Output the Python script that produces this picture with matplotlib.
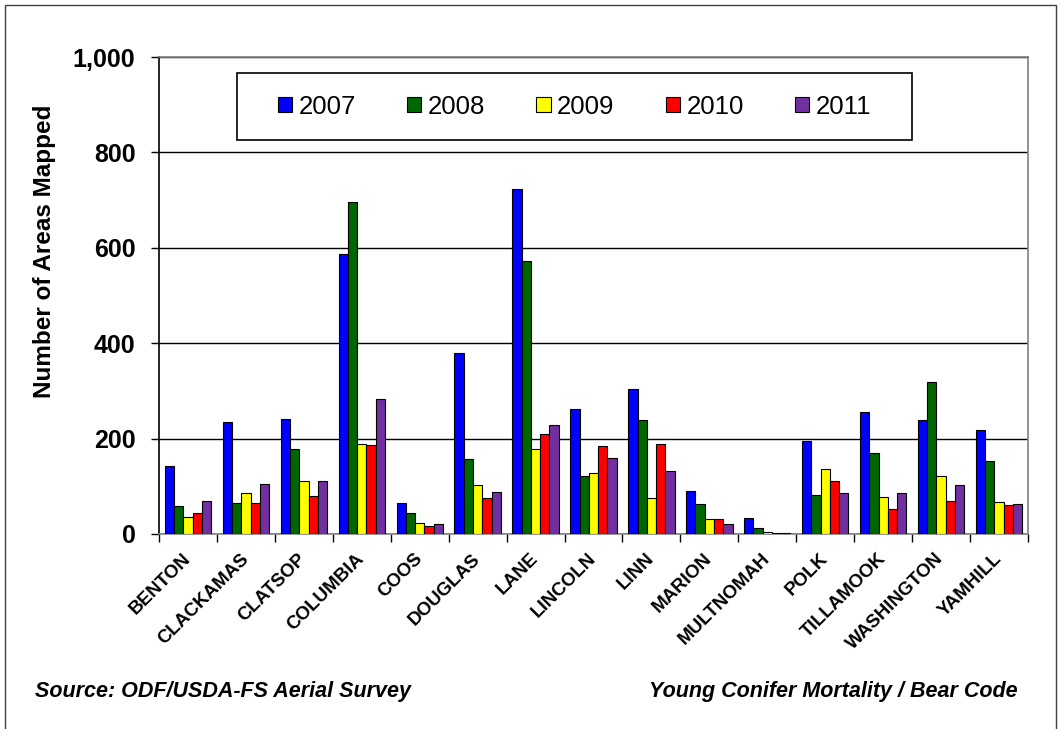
import matplotlib.pyplot as plt
import numpy as np
from matplotlib.patches import Rectangle
from matplotlib.ticker import FuncFormatter

plt.rcParams['font.family'] = ['Liberation Sans', 'DejaVu Sans']

# mapped areas per county and year
counties = ['BENTON', 'CLACKAMAS', 'CLATSOP', 'COLUMBIA', 'COOS', 'DOUGLAS', 'LANE',
            'LINCOLN', 'LINN', 'MARION', 'MULTNOMAH', 'POLK', 'TILLAMOOK',
            'WASHINGTON', 'YAMHILL']
years = ['2007', '2008', '2009', '2010', '2011']
y2007 = [142, 234, 241, 586, 65, 380, 724, 261, 304, 90, 33, 196, 256, 238, 217]
y2008 = [58, 65, 179, 697, 45, 158, 573, 122, 239, 62, 13, 82, 169, 318, 154]
y2009 = [35, 85, 112, 189, 22, 102, 179, 127, 75, 31, 5, 137, 77, 122, 67]
y2010 = [45, 65, 80, 186, 16, 75, 209, 184, 189, 31, 3, 112, 52, 70, 60]
y2011 = [70, 105, 112, 284, 20, 87, 228, 159, 132, 20, 2, 85, 85, 102, 62]
colors = ['#0000FF', '#006600', '#FFFF00', '#FF0000', '#7030A0']

fig = plt.figure(figsize=(10.61, 7.29), dpi=100)
ax = fig.add_axes([0.1499, 0.2675, 0.819, 0.6543])

x = np.arange(len(counties))
w = 0.16
for i, vals in enumerate([y2007, y2008, y2009, y2010, y2011]):
    ax.bar(x + (i - 2) * w, vals, w, color=colors[i], edgecolor='black',
           linewidth=0.8, label=years[i], zorder=3)

ax.set_xlim(-0.5, len(counties) - 0.5)
ax.set_ylim(0, 1000)
ax.set_yticks(range(0, 1001, 200))
ax.yaxis.set_major_formatter(FuncFormatter(lambda v, p: f'{v:,.0f}'))
ax.grid(axis='y', color='black', linewidth=1, zorder=0)
ax.tick_params(axis='y', labelsize=18, length=6, width=1, pad=11)
for lab in ax.get_yticklabels():
    lab.set_fontweight('bold')

ax.set_xticks(x)
ax.set_xticklabels(counties, rotation=45, ha='right', va='center',
                   rotation_mode='anchor', fontsize=13.5, fontweight='bold')
ax.tick_params(axis='x', which='major', length=0, pad=16)
ax.set_xticks(np.arange(-0.5, len(counties)), minor=True)
ax.tick_params(axis='x', which='minor', length=6, width=1, direction='out')

ax.spines['left'].set_color('black')
ax.spines['left'].set_linewidth(1.2)
for s in ['top', 'right', 'bottom']:
    ax.spines[s].set_color('#808080')
    ax.spines[s].set_linewidth(1.2)

# legend box
ax.add_patch(Rectangle((0.0898, 0.826), 0.7767, 0.1405, transform=ax.transAxes,
                       facecolor='white', edgecolor='black', linewidth=1.2, zorder=4))
leg = ax.legend(ncol=5, loc='center', bbox_to_anchor=(0.478, 0.896), frameon=False,
                fontsize=18.5, handlelength=0.55, handleheight=0.55,
                handletextpad=0.25, columnspacing=2.0)
leg.set_zorder(5)

fig.text(45 / 1061, 1 - 251 / 729, 'Number of Areas Mapped', rotation=90,
         ha='center', va='center', fontsize=17.5, fontweight='bold')
fig.text(35 / 1061, 1 - 692 / 729, 'Source: ODF/USDA-FS Aerial Survey',
         ha='left', va='center', fontsize=15.5, fontweight='bold', style='italic')
fig.text(1018 / 1061, 1 - 692 / 729, 'Young Conifer Mortality / Bear Code',
         ha='right', va='center', fontsize=15.5, fontweight='bold', style='italic')

# outer frame
fig.patches.append(Rectangle((5 / 1061, -0.02), 1051 / 1061, 1 - 5 / 729 + 0.02,
                             transform=fig.transFigure, fill=False,
                             edgecolor='#404040', linewidth=1))

fig.savefig('out.png', dpi=100)
